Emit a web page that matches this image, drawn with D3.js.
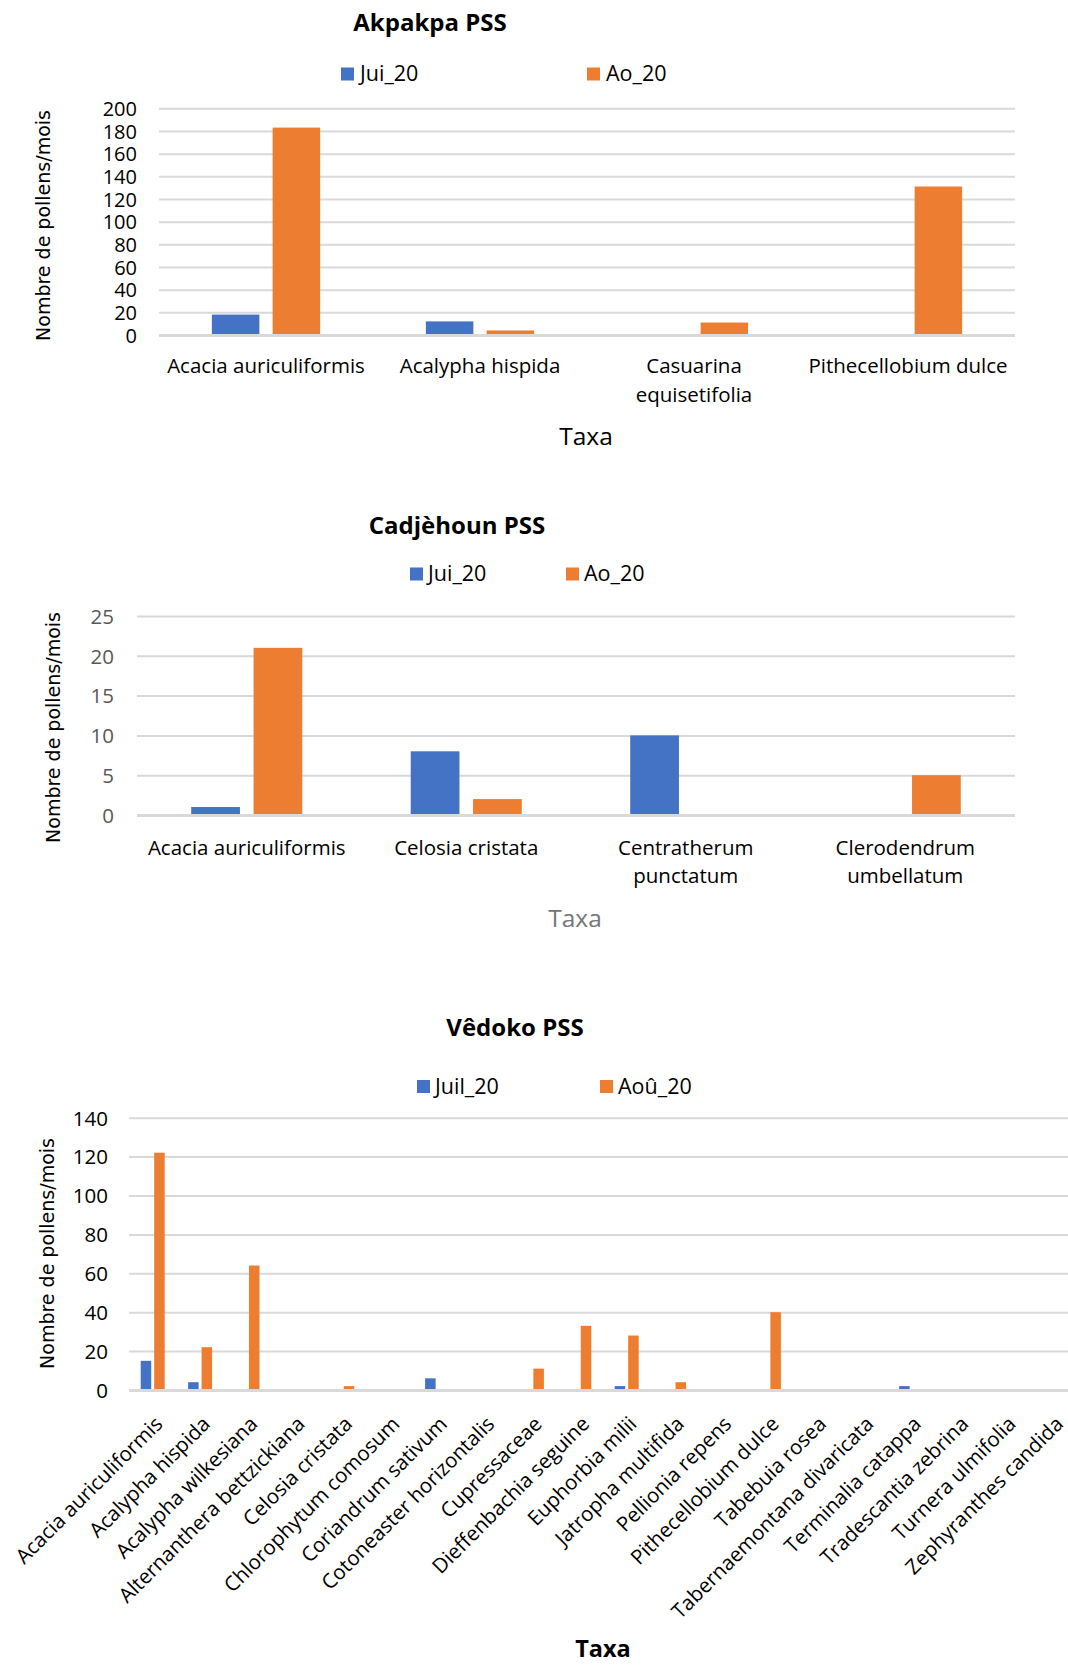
<!DOCTYPE html>
<html>
<head>
<meta charset="utf-8">
<script src="https://cdn.jsdelivr.net/npm/d3@7"></script>
<style>
  body { margin: 0; background: #fff; }
  svg { display: block; }
</style>
</head>
<body>
<svg id="chart" width="1068" height="1665"></svg>
<script>
// ---- Data ----
const seriesColors = ["#4472C4", "#ED7D31"];

// Akpakpa PSS
const akpakpaTaxa = ["Acacia auriculiformis", "Acalypha hispida", "Casuarina equisetifolia", "Pithecellobium dulce"];
const akpakpaSeriesNames = ["Jui_20", "Ao_20"];
const akpakpaJuil = [18, 12, 0, 0];
const akpakpaAout = [183, 4, 11, 131];
const akpakpaTicks = [0, 20, 40, 60, 80, 100, 120, 140, 160, 180, 200];

// Cadjèhoun PSS
const cadjehounTaxa = ["Acacia auriculiformis", "Celosia cristata", "Centratherum punctatum", "Clerodendrum umbellatum"];
const cadjehounSeriesNames = ["Jui_20", "Ao_20"];
const cadjehounJuil = [1, 8, 10, 0];
const cadjehounAout = [21, 2, 0, 5];
const cadjehounTicks = [0, 5, 10, 15, 20, 25];

// Vêdoko PSS
const vedokoTaxa = [
  "Acacia auriculiformis", "Acalypha hispida", "Acalypha wilkesiana", "Alternanthera bettzickiana",
  "Celosia cristata", "Chlorophytum comosum", "Coriandrum sativum", "Cotoneaster horizontalis",
  "Cupressaceae", "Dieffenbachia seguine", "Euphorbia milii", "Jatropha multifida",
  "Pellionia repens", "Pithecellobium dulce", "Tabebuia rosea", "Tabernaemontana divaricata",
  "Terminalia catappa", "Tradescantia zebrina", "Turnera ulmifolia", "Zephyranthes candida"
];
const vedokoSeriesNames = ["Juil_20", "Aoû_20"];
const vedokoJuil = [15, 4, 0, 0, 0, 0, 6, 0, 0, 0, 2, 0, 0, 0, 0, 0.5, 2, 0, 0.5, 0.5];
const vedokoAout = [122, 22, 64, 0.5, 2, 0.5, 0, 0.5, 11, 33, 28, 4, 0.5, 40, 0.5, 0, 0.5, 0.5, 0, 0];
const vedokoTicks = [0, 20, 40, 60, 80, 100, 120, 140];

const yAxisTitle = "Nombre de pollens/mois";
const xAxisTitle = "Taxa";

// ---- Layout ----
const FONT = "'Open Sans', 'Noto Sans', sans-serif";
const YFONT = "'DejaVu Sans', sans-serif";

const charts = [
  {
    title: "Akpakpa PSS", titleX: 430, titleY: 31,
    taxa: akpakpaTaxa, names: akpakpaSeriesNames, series: [akpakpaJuil, akpakpaAout], ticks: akpakpaTicks,
    x0: 159, x1: 1015, yTop: 108.3, yBot: 335,
    tickRight: 137, tickColor: "#000", tickSize: 20,
    legend: [{ sx: 341, tx: 360 }, { sx: 587, tx: 606 }], legendY: 67.5, legendBase: 81,
    labelBase: 373, labelLine: 28.7, rotate: false,
    xTitle: { x: 586, y: 445, weight: "normal", color: "#000", size: 24.5 },
    yTitle: { x: 45, y: 225.5 }
  },
  {
    title: "Cadjèhoun PSS", titleX: 457, titleY: 534,
    taxa: cadjehounTaxa, names: cadjehounSeriesNames, series: [cadjehounJuil, cadjehounAout], ticks: cadjehounTicks,
    x0: 137, x1: 1015, yTop: 616, yBot: 815,
    tickRight: 114, tickColor: "#595959", tickSize: 20.5,
    legend: [{ sx: 410, tx: 428 }, { sx: 566, tx: 584 }], legendY: 567.5, legendBase: 581,
    labelBase: 855, labelLine: 28, rotate: false,
    xTitle: { x: 575, y: 926.5, weight: "normal", color: "#767676", size: 24.5 },
    yTitle: { x: 55, y: 727.5 }
  },
  {
    title: "Vêdoko PSS", titleX: 515, titleY: 1036,
    taxa: vedokoTaxa, names: vedokoSeriesNames, series: [vedokoJuil, vedokoAout], ticks: vedokoTicks,
    x0: 129, x1: 1077, yTop: 1117.7, yBot: 1390,
    tickRight: 108, tickColor: "#000", tickSize: 20.5,
    legend: [{ sx: 417, tx: 435 }, { sx: 600, tx: 618 }], legendY: 1080, legendBase: 1093.5,
    labelBase: 1420, rotate: true,
    xTitle: { x: 603, y: 1657, weight: "bold", color: "#000", size: 23.5 },
    yTitle: { x: 49, y: 1253.5 }
  }
];

const svg = d3.select("#chart");
svg.append("rect").attr("width", 1068).attr("height", 1665).attr("fill", "#fff");

function drawChart(cfg) {
  const g = svg.append("g");

  const x = d3.scaleBand().domain(cfg.taxa).range([cfg.x0, cfg.x1]).padding(0);
  const y = d3.scaleLinear().domain([0, d3.max(cfg.ticks)]).range([cfg.yBot, cfg.yTop]);

  // Horizontal gridlines and value labels
  const yAxis = g.append("g")
    .attr("transform", `translate(${cfg.x0},0)`)
    .call(d3.axisLeft(y).tickValues(cfg.ticks).tickFormat(d3.format("d"))
      .tickSize(-(cfg.x1 - cfg.x0)).tickPadding(cfg.x0 - cfg.tickRight));
  yAxis.select(".domain").remove();
  yAxis.attr("font-family", FONT).attr("font-size", cfg.tickSize);
  yAxis.selectAll(".tick line").attr("stroke", "#D9D9D9").attr("stroke-width", 2);
  yAxis.selectAll(".tick text").attr("fill", cfg.tickColor).attr("dy", "0.36em");

  // Clustered bars
  const W = x.bandwidth();
  const bw = W * 0.222, gap = W * 0.062;
  cfg.series.forEach((vals, si) => {
    g.append("g").selectAll("rect")
      .data(cfg.taxa.map((t, i) => ({ t, v: vals[i] })))
      .join("rect")
      .attr("x", d => x(d.t) + W / 2 - bw - gap / 2 + si * (bw + gap))
      .attr("width", bw)
      .attr("y", d => y(d.v))
      .attr("height", d => y(0) - y(d.v))
      .attr("fill", seriesColors[si]);
  });

  // Category axis line
  g.append("line")
    .attr("x1", cfg.x0).attr("x2", cfg.x1)
    .attr("y1", y(0) + 0.5).attr("y2", y(0) + 0.5)
    .attr("stroke", "#D9D9D9").attr("stroke-width", 3);

  // Category labels
  const lab = g.append("g").attr("font-family", FONT).attr("font-size", 20.5).attr("fill", "#000");
  if (cfg.rotate) {
    cfg.taxa.forEach(t => {
      lab.append("text")
        .attr("transform", `translate(${x(t) + W / 2 + 6},${cfg.labelBase}) rotate(-45)`)
        .attr("text-anchor", "end")
        .attr("dy", "0.36em")
        .text(t);
    });
  } else {
    cfg.taxa.forEach(t => {
      const cx = x(t) + W / 2;
      const txt = lab.append("text").attr("x", cx).attr("y", cfg.labelBase).attr("text-anchor", "middle").text(t);
      if (txt.node().getComputedTextLength() > W * 0.95) {
        // wrap words onto lines that fit the category width
        const words = t.split(" ");
        const lines = [];
        let cur = "";
        txt.text(null);
        const probe = lab.append("text").attr("visibility", "hidden");
        words.forEach(w => {
          const test = cur ? cur + " " + w : w;
          probe.text(test);
          if (cur && probe.node().getComputedTextLength() > W * 0.95) {
            lines.push(cur); cur = w;
          } else cur = test;
        });
        lines.push(cur);
        probe.remove();
        lines.forEach((l, li) => {
          txt.append("tspan").attr("x", cx).attr("y", cfg.labelBase + li * cfg.labelLine).text(l);
        });
      }
    });
  }

  // Title
  g.append("text")
    .attr("x", cfg.titleX).attr("y", cfg.titleY)
    .attr("text-anchor", "middle")
    .attr("font-family", FONT).attr("font-weight", "bold").attr("font-size", 24)
    .attr("fill", "#000")
    .text(cfg.title);

  // Legend
  cfg.names.forEach((n, i) => {
    const L = cfg.legend[i];
    g.append("rect").attr("x", L.sx).attr("y", cfg.legendY).attr("width", 13).attr("height", 13)
      .attr("fill", seriesColors[i]);
    g.append("text").attr("x", L.tx).attr("y", cfg.legendBase)
      .attr("font-family", FONT).attr("font-size", 21.5).attr("fill", "#000")
      .text(n);
  });

  // Axis titles
  g.append("text")
    .attr("x", cfg.xTitle.x).attr("y", cfg.xTitle.y)
    .attr("text-anchor", "middle")
    .attr("font-family", FONT).attr("font-size", cfg.xTitle.size)
    .attr("font-weight", cfg.xTitle.weight).attr("fill", cfg.xTitle.color)
    .text(xAxisTitle);

  g.append("text")
    .attr("transform", `translate(${cfg.yTitle.x + 5},${cfg.yTitle.y}) rotate(-90)`)
    .attr("text-anchor", "middle")
    .attr("font-family", YFONT).attr("font-size", 19)
    .attr("fill", "#000")
    .text(yAxisTitle);
}

charts.forEach(drawChart);
</script>
</body>
</html>
